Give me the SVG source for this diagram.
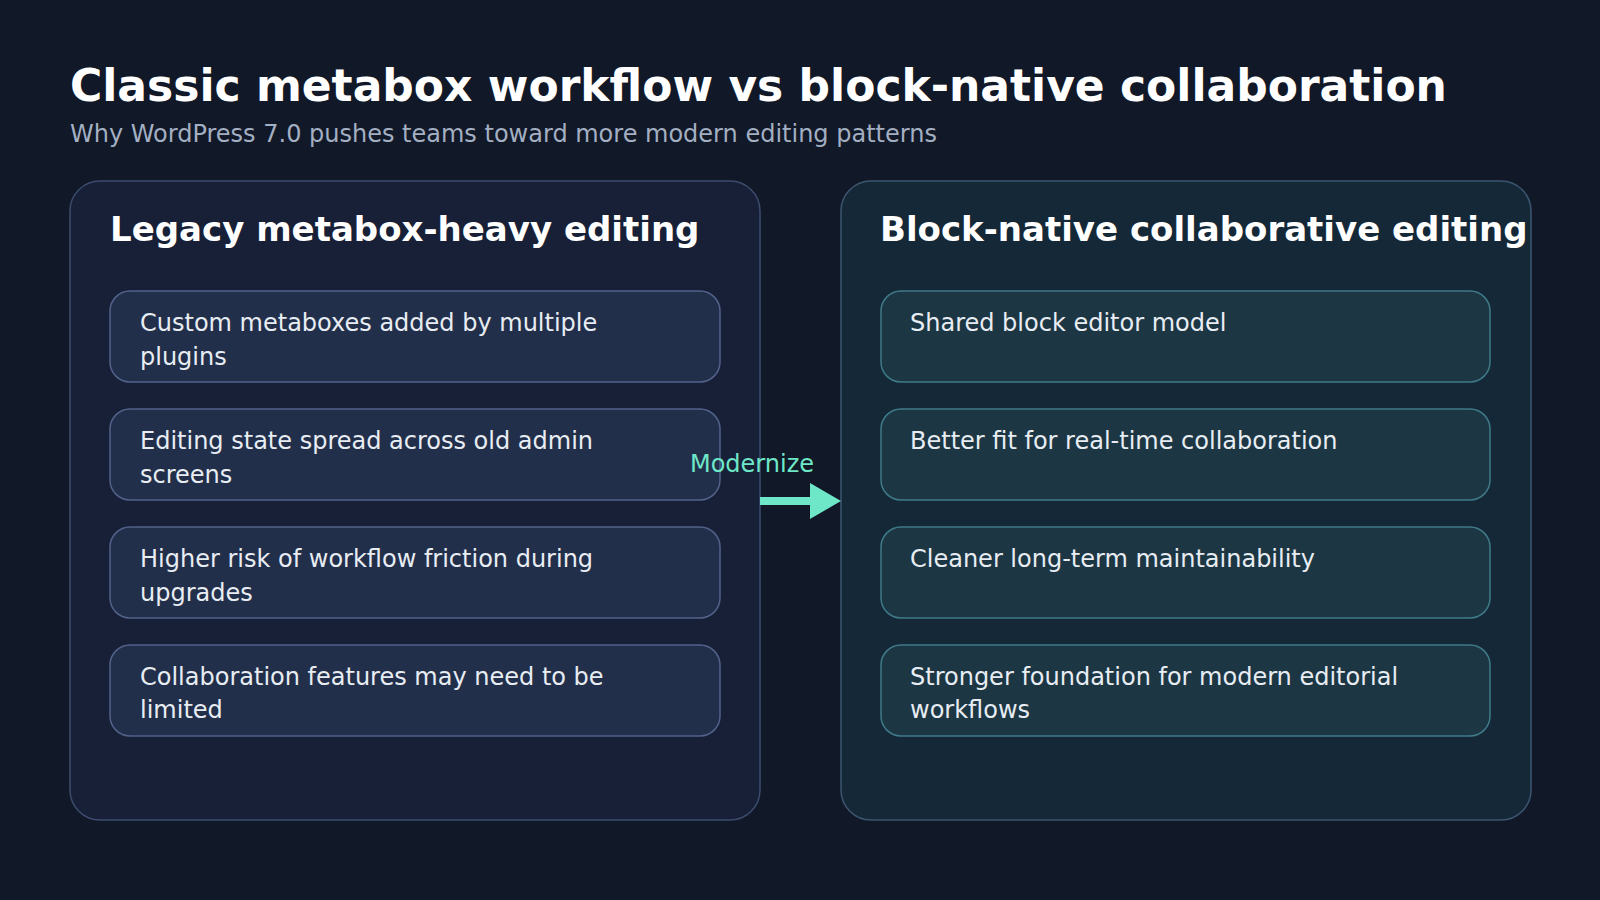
<svg xmlns="http://www.w3.org/2000/svg" width="1600" height="900" viewBox="0 0 1600 900">
<defs>
<style>
text{font-family:"DejaVu Sans",sans-serif}
.t{font-size:44px;font-weight:bold;fill:#ffffff}
.s{font-size:24px;fill:#a3afc2}
.h{font-size:34px;font-weight:bold;fill:#ffffff}
.i{font-size:24px;fill:#e8edf3}
.lp{fill:#172036;stroke:#3d4c6e;stroke-width:1.5}
.rp{fill:#152838;stroke:#3d5670;stroke-width:1.5}
.li{fill:#222f4a;stroke:#52628a;stroke-width:1.5}
.ri{fill:#1c3644;stroke:#3f7a88;stroke-width:1.5}
</style>
</defs>
<rect width="1600" height="900" fill="#111827"/>
<text class="t" x="70" y="101">Classic metabox workflow vs block-native collaboration</text>
<text class="s" x="70" y="142">Why WordPress 7.0 pushes teams toward more modern editing patterns</text>
<g id="left">
<rect class="lp" x="70" y="181" width="690" height="639" rx="30"/>
<text class="h" x="110" y="241">Legacy metabox-heavy editing</text>
</g>
<g id="right">
<rect class="rp" x="841" y="181" width="690" height="639" rx="30"/>
<text class="h" x="880" y="241">Block-native collaborative editing</text>
</g>
<g id="l1"><rect class="li" x="110" y="291" width="610" height="91" rx="20"/><text class="i" x="140" y="331">Custom metaboxes added by multiple</text><text class="i" x="140" y="365">plugins</text></g>
<g id="l2"><rect class="li" x="110" y="409" width="610" height="91" rx="20"/><text class="i" x="140" y="449">Editing state spread across old admin</text><text class="i" x="140" y="483">screens</text></g>
<g id="l3"><rect class="li" x="110" y="527" width="610" height="91" rx="20"/><text class="i" x="140" y="567">Higher risk of workflow friction during</text><text class="i" x="140" y="601">upgrades</text></g>
<g id="l4"><rect class="li" x="110" y="645" width="610" height="91" rx="20"/><text class="i" x="140" y="685">Collaboration features may need to be</text><text class="i" x="140" y="718">limited</text></g>
<g id="r1"><rect class="ri" x="881" y="291" width="609" height="91" rx="20"/><text class="i" x="910" y="331">Shared block editor model</text></g>
<g id="r2"><rect class="ri" x="881" y="409" width="609" height="91" rx="20"/><text class="i" x="910" y="449">Better fit for real-time collaboration</text></g>
<g id="r3"><rect class="ri" x="881" y="527" width="609" height="91" rx="20"/><text class="i" x="910" y="567">Cleaner long-term maintainability</text></g>
<g id="r4"><rect class="ri" x="881" y="645" width="609" height="91" rx="20"/><text class="i" x="910" y="685">Stronger foundation for modern editorial</text><text class="i" x="910" y="718">workflows</text></g>
<g id="connectors">
<line x1="760" y1="501" x2="810" y2="501" stroke="#6ee7c8" stroke-width="8"/>
<path d="M810,483 L841,501 L810,519 Z" fill="#6ee7c8"/>
<text x="752" y="472" text-anchor="middle" font-size="24" fill="#6ee7c8" style="font-family:'DejaVu Sans',sans-serif">Modernize</text>
</g>
</svg>
